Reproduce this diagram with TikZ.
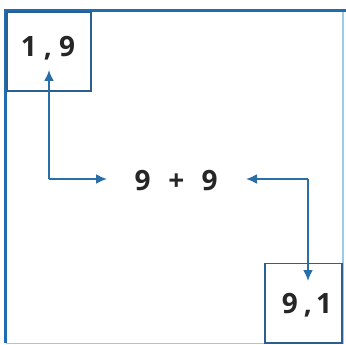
\documentclass[tikz,border=0pt]{standalone}
\usepackage{fontspec}
\setmainfont{Open Sans}
\usetikzlibrary{arrows.meta}
\definecolor{frameblue}{HTML}{1F6DB0}
\definecolor{boxblue}{HTML}{2B5F8E}
\definecolor{arrowblue}{HTML}{2A6EA8}
\definecolor{lightframe}{HTML}{9CCBEA}
\tikzset{
  numbox/.style={draw=boxblue, line width=1.8pt},
  numtext/.style={font=\bfseries\fontsize{28}{28}\selectfont, text=black!85, inner sep=0pt},
  link/.style={draw=arrowblue, line width=2pt, -{Latex[length=11pt,width=10pt]}}
}
\begin{document}
\begin{tikzpicture}[x=1pt,y=-1pt]
\useasboundingbox (0,0) rectangle (346,345);
\fill[white] (0,0) rectangle (346,345);
% outer frame
\draw[lightframe, line width=1.5pt] (343,10) -- (343,343.5) -- (6,343.5);
\draw[frameblue, line width=3.5pt] (5.5,343) -- (5.5,10.5) -- (346,10.5);
% boxes
\draw[numbox] (7,12) rectangle (91,91);
\draw[numbox] (265,263.5) rectangle (342,343);
\node[numtext] (a) at (48,48) {1\hspace{7pt},\hspace{7pt}9};
\node[numtext] (c) at (307,305) {9\hspace{6pt},\hspace{4pt}1};
\node[numtext] (b) at (176,181) {9\hspace{18pt}+\hspace{17pt}9};
\coordinate (ta) at (49,70);
\coordinate (ca) at (308,281);
\coordinate (ba) at (107,179);
\coordinate (bb) at (246,179);
\draw[link] (49,179) -- (ba);
\draw[link] (49,179) -- (ta);
\draw[link] (308,179) -- (bb);
\draw[link] (308,179) -- (ca);
\end{tikzpicture}
\end{document}
